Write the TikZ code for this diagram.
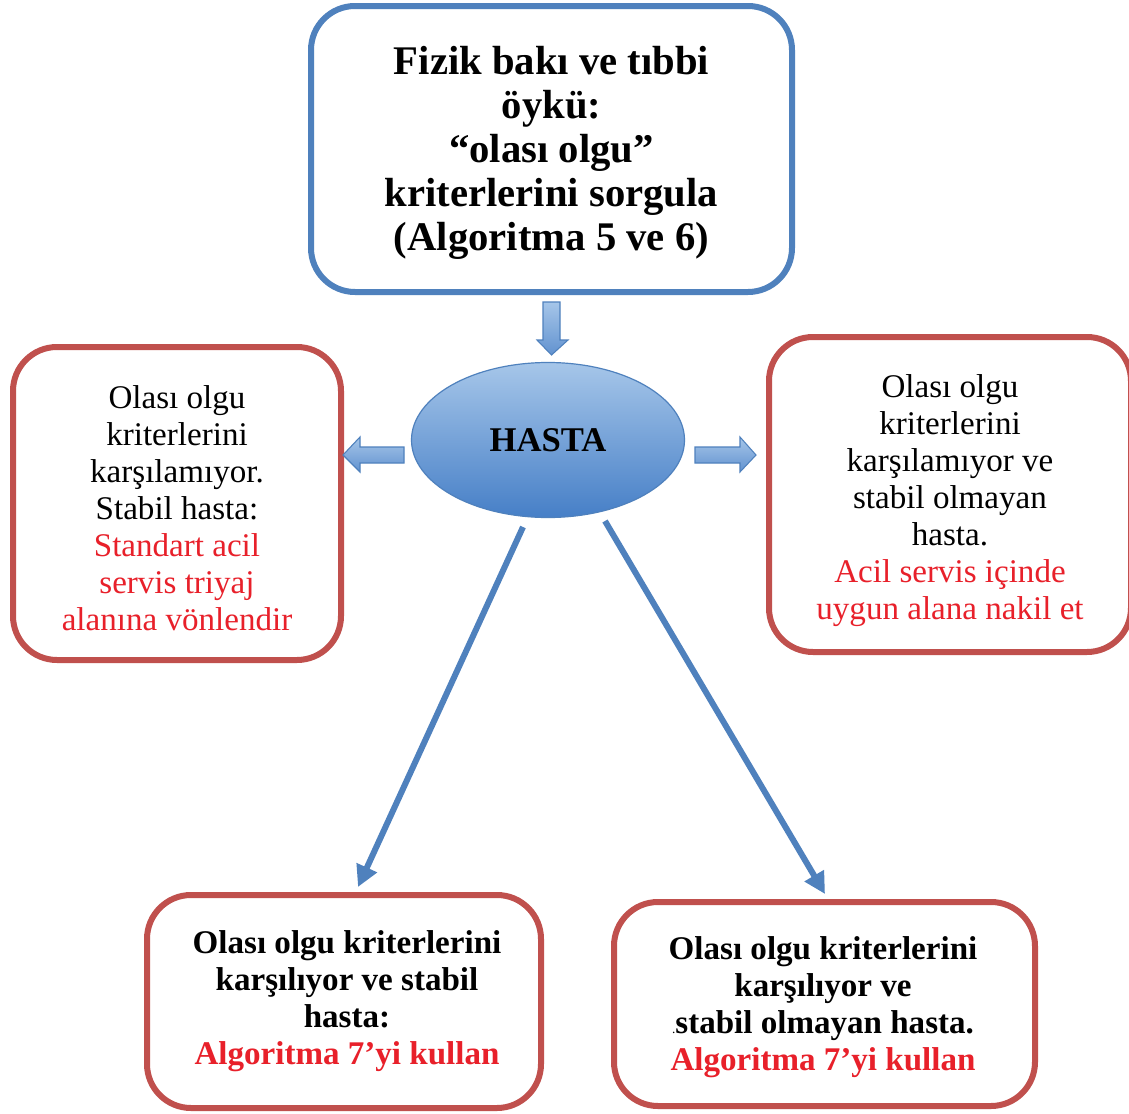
\documentclass[tikz,border=0pt]{standalone}
\usepackage{fontspec}
\setmainfont{Liberation Serif}
\usetikzlibrary{shapes.geometric,arrows.meta}
\definecolor{bblue}{RGB}{79,129,189}
\definecolor{bred}{RGB}{192,80,77}
\definecolor{tred}{RGB}{232,32,42}
\definecolor{elltop}{RGB}{166,198,233}
\definecolor{ellbot}{RGB}{70,127,199}
\tikzset{
  box/.style={draw, line width=4.5pt, rounded corners=33pt, inner sep=0pt, fill=white},
  bluebox/.style={box, draw=bblue},
  redbox/.style={box, draw=bred},
  txt/.style={align=center, inner sep=0pt},
  toptext/.style={txt, font=\fontsize{30.5pt}{33pt}\selectfont\bfseries},
  sidetext/.style={txt, font=\fontsize{24.8pt}{27.75pt}\selectfont},
  bottext/.style={txt, font=\fontsize{24.8pt}{27.75pt}\selectfont\bfseries},
  blockarrow/.style={draw=bblue, line width=0.8pt, top color=elltop, bottom color=ellbot!85},
  linkarrow/.style={draw=bblue, line width=4.5pt, -{Triangle[length=16pt,width=16pt]}}
}
\begin{document}
\begin{tikzpicture}[x=0.75pt,y=-0.75pt]
\useasboundingbox (0,0) rectangle (1129,1114);
\fill[white] (0,0) rectangle (1129,1114);

\node[bluebox, minimum width=360.75pt, minimum height=214.5pt] (top) at (551.5,149) {};
\node[toptext] (toptxt) at (551.5,153)
  {Fizik bakı ve tıbbi\\öykü:\\“olası olgu”\\kriterlerini sorgula\\(Algoritma 5 ve 6)};

\node[redbox, minimum width=246pt, minimum height=234.75pt] (left) at (177,503.5) {};
\node[sidetext] (lefttxt) at (177,508.5)
  {Olası olgu\\kriterlerini\\karşılamıyor.\\Stabil hasta:\\\textcolor{tred}{Standart acil}\\\textcolor{tred}{servis triyaj}\\\textcolor{tred}{alanına vönlendir}};

\node[redbox, minimum width=271.5pt, minimum height=236.25pt] (right) at (950,494.5) {};
\node[sidetext] (righttxt) at (950,500.5)
  {Olası olgu\\kriterlerini\\karşılamıyor ve\\stabil olmayan\\hasta.\\\textcolor{tred}{Acil servis içinde}\\\textcolor{tred}{uygun alana nakil et}};

\node[redbox, minimum width=295.5pt, minimum height=159.75pt] (bl) at (344,1001.5) {};
\node[bottext] (bltxt) at (347,1001)
  {Olası olgu kriterlerini\\karşılıyor ve stabil\\hasta:\\\textcolor{tred}{Algoritma 7’yi kullan}};

\node[redbox, minimum width=315.75pt, minimum height=153pt] (br) at (824.5,1004) {};
\node[bottext] (brtxt) at (823,1007)
  {Olası olgu kriterlerini\\karşılıyor ve\\{\fontsize{10pt}{10pt}\selectfont\mdseries.}stabil olmayan hasta.\\\textcolor{tred}{Algoritma 7’yi kullan}};

\node[ellipse, draw=bblue, line width=0.9pt, top color=elltop, bottom color=ellbot,
      minimum width=204.75pt, minimum height=116.25pt,
      font=\fontsize{26pt}{28pt}\selectfont\bfseries] (hasta) at (548,440) {HASTA};

% block arrows
\draw[blockarrow] (543,302) -- (560,302) -- (560,340) -- (568,340) -- (551.5,355) -- (537,340) -- (543,340) -- cycle;
\draw[blockarrow] (404,447) -- (360,447) -- (360,437) -- (343,455) -- (360,472) -- (360,463) -- (404,463) -- cycle;
\draw[blockarrow] (695,447) -- (740,447) -- (740,437) -- (756,455) -- (740,472) -- (740,463) -- (695,463) -- cycle;

% link arrows
\coordinate (ls) at (523,527);
\coordinate (le) at (358,887);
\coordinate (rs) at (605,521);
\coordinate (re) at (825,894);
\draw[linkarrow] (ls) -- (le);
\draw[linkarrow] (rs) -- (re);
\end{tikzpicture}
\end{document}
